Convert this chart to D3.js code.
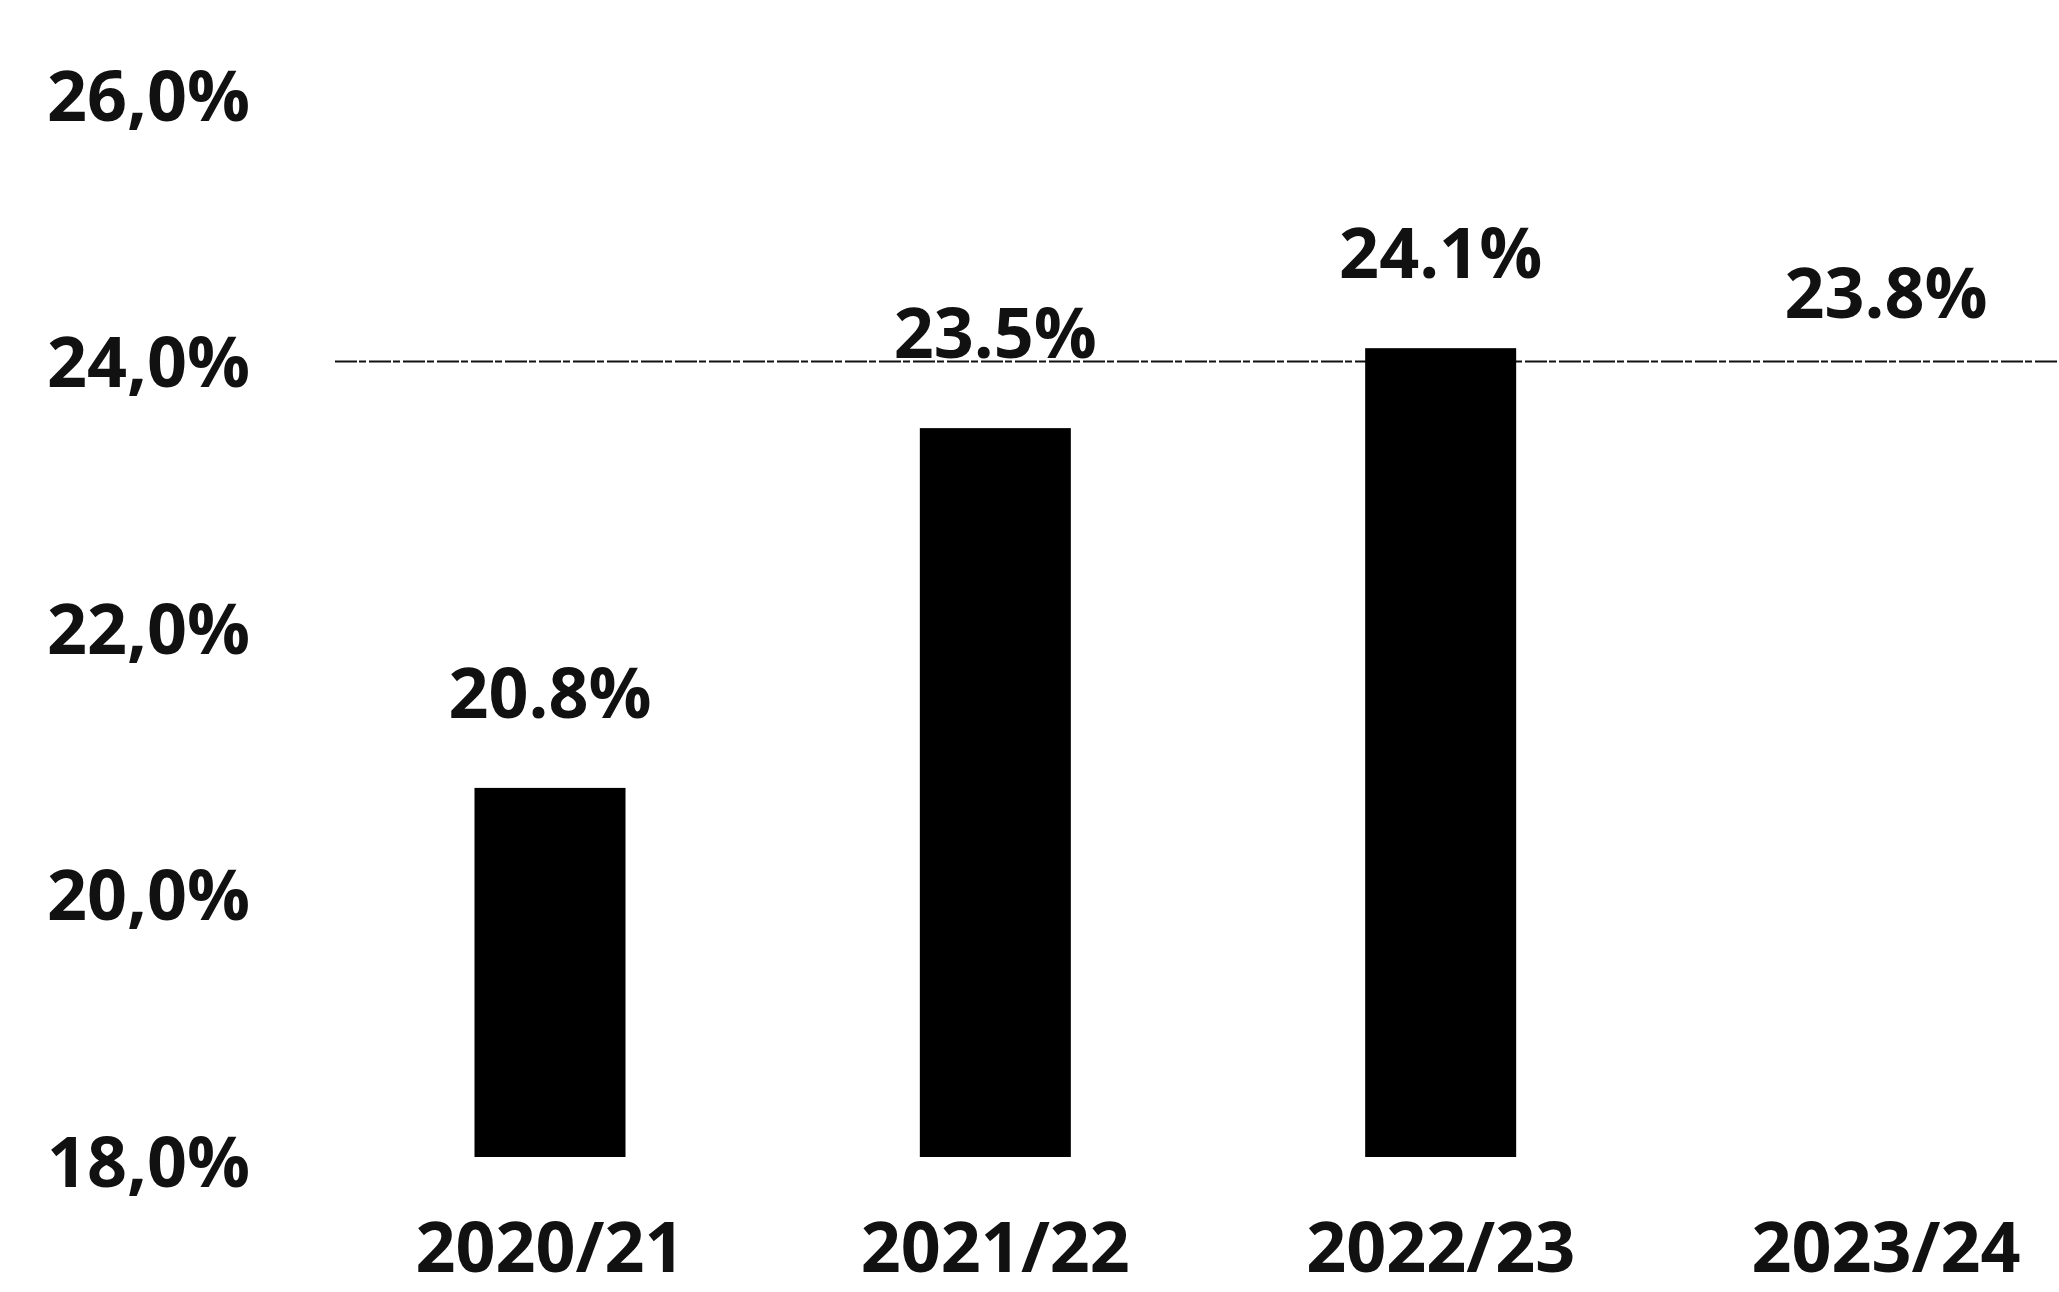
<!DOCTYPE html>
<html lang="en">
<head>
  <meta charset="utf-8" />
  <title>Share by year</title>
  <script src="https://cdn.jsdelivr.net/npm/d3@7"></script>
  <style>
    html, body { margin:0; padding:0; background:#fff; }
    svg text { font-family:"Open Sans", "Noto Sans", sans-serif; font-weight:700; fill:#111; }
  </style>
</head>
<body>
<div id="chart"></div>
<script>
// --- data ------------------------------------------------------------------
const years   = ["2020/21", "2021/22", "2022/23", "2023/24"];
const values  = [20.8, 23.5, 24.1, 23.8];
const barFill = ["#000", "#000", "#000", "#fff"];   // last bar is blank in the source
const yTicks  = [18, 20, 22, 24, 26];
const refLine = 24;

// --- layout ----------------------------------------------------------------
const W = 2059, H = 1292;
const fontSize = 70;
const barW = 151;

const svg = d3.select("#chart").append("svg")
  .attr("width", W)
  .attr("height", H);

const x = d3.scalePoint().domain(years).range([550, 1886]);
const y = d3.scaleLinear().domain([18, 26]).range([1161, 95]);

// y axis: labels only
const yAxis = d3.axisLeft(y)
  .tickValues(yTicks)
  .tickSize(0)
  .tickPadding(0)
  .tickFormat(d => d.toFixed(1).replace(".", ",") + "%");

const yG = svg.append("g")
  .attr("transform", "translate(250,0)")
  .call(yAxis);
yG.select(".domain").remove();
yG.attr("font-size", null).attr("font-family", null);
yG.selectAll("text")
  .attr("font-size", fontSize)
  .attr("dy", "0.36em");

// reference line at 24%
svg.append("line")
  .attr("x1", 335).attr("x2", W)
  .attr("y1", y(refLine)).attr("y2", y(refLine))
  .attr("stroke", "#111")
  .attr("stroke-width", 2)
  .attr("stroke-dasharray", "22 2 7 3");

// bars
const data = years.map((yr, i) => ({ yr, v: values[i], fill: barFill[i] }));

svg.append("g").selectAll("rect")
  .data(data)
  .join("rect")
  .attr("x", d => x(d.yr) - barW / 2)
  .attr("width", barW)
  .attr("y", d => y(d.v))
  .attr("height", d => y(18) - 4 - y(d.v))
  .attr("fill", d => d.fill);

// value labels
svg.append("g").selectAll("text")
  .data(data)
  .join("text")
  .attr("x", d => x(d.yr))
  .attr("y", d => y(d.v) - 70)
  .attr("text-anchor", "middle")
  .attr("font-size", fontSize)
  .text(d => d.v.toFixed(1) + "%");

// category labels
svg.append("g").selectAll("text")
  .data(years)
  .join("text")
  .attr("x", d => x(d))
  .attr("y", 1272)
  .attr("text-anchor", "middle")
  .attr("font-size", fontSize)
  .text(d => d);
</script>
</body>
</html>
